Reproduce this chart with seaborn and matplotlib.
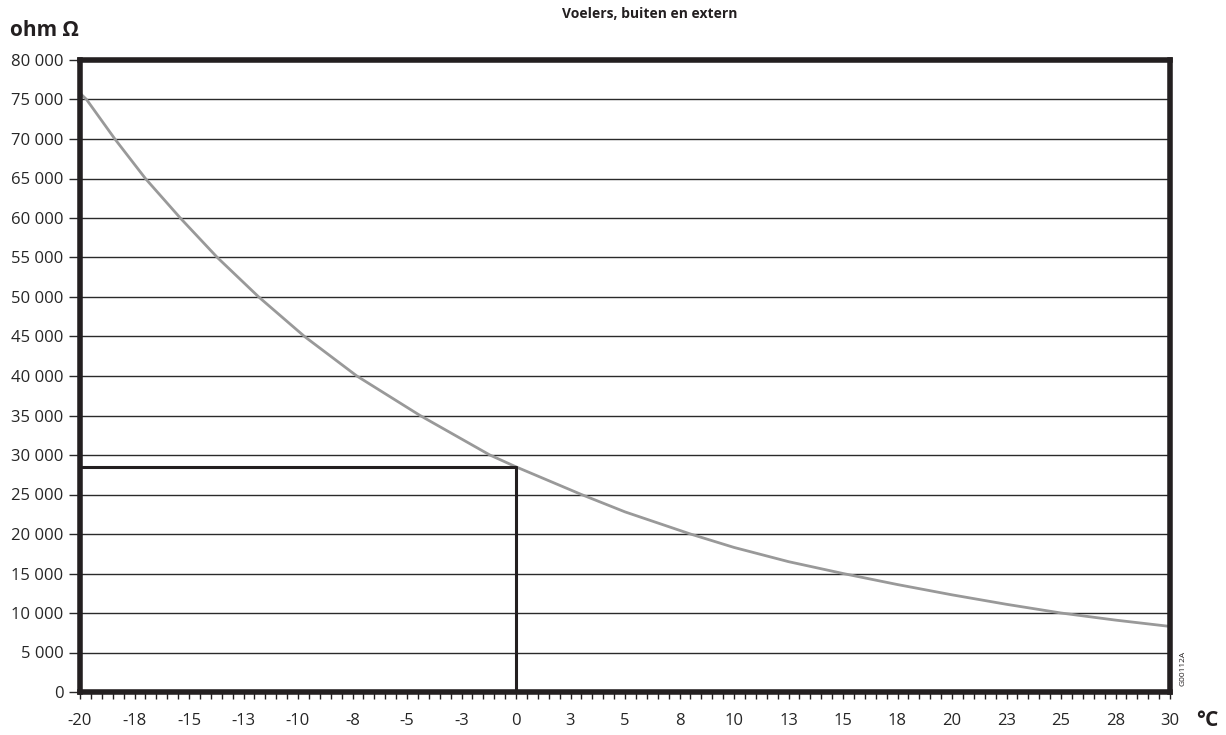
import numpy as np
import pandas as pd
import matplotlib
matplotlib.use("Agg")
import matplotlib.pyplot as plt
import seaborn as sns
from matplotlib.ticker import MultipleLocator, FixedLocator

# Waarden (temperatuur in °C, weerstand in ohm),
# vooral op de plekken waar de curve een rasterlijn snijdt
temperatuur = [-20, -19.7, -18.4, -17.0, -15.4, -13.7, -11.8, -9.7, -7.3, -4.4,
               -1.2, 0, 3.0, 5, 8.0, 10, 12.5, 15.0, 17.5, 20, 22.5, 25.0,
               27.5, 30]
weerstand = [75800, 75000, 70000, 65000, 60000, 55000, 50000, 45000, 40000,
             35000, 30000, 28500, 25000, 22800, 20000, 18300, 16500, 15000,
             13600, 12300, 11100, 10000, 9100, 8300]

x_tick_pos = [-20, -17.5, -15, -12.5, -10, -7.5, -5, -2.5, 0, 2.5, 5,
              7.5, 10, 12.5, 15, 17.5, 20, 22.5, 25, 27.5, 30]
x_tick_labels = ["-20", "-18", "-15", "-13", "-10", "-8", "-5", "-3", "0", "3", "5",
                 "8", "10", "13", "15", "18", "20", "23", "25", "28", "30"]
y_ticks = list(range(0, 80001, 5000))
y_tick_labels = ["0"] + [f"{v // 1000} 000" for v in y_ticks[1:]]

ref_temp = 0
ref_ohm = 28500

sns.set_theme(style="white")
plt.rcParams['font.family'] = ['Open Sans', 'DejaVu Sans']

df = pd.DataFrame({"temp": temperatuur, "ohm": weerstand})

fig = plt.figure(figsize=(12.26, 7.35), dpi=100)
ax = fig.add_axes([80 / 1226, 1 - 692 / 735, (1170 - 80) / 1226, (692 - 60) / 735])

# rasterlijnen
for v in y_ticks[1:]:
    ax.axhline(v, color="#2a2a2a", lw=1.0, zorder=1)

sns.lineplot(data=df, x="temp", y="ohm", ax=ax, color="#999999", lw=2.0,
             zorder=3, sort=True)

# referentielijnen bij 0 °C
ax.plot([-20, ref_temp], [ref_ohm, ref_ohm], color="#231f20", lw=2.2, zorder=4)
ax.plot([ref_temp, ref_temp], [0, ref_ohm], color="#231f20", lw=2.2, zorder=4)

ax.set_xlim(-20, 30)
ax.set_ylim(0, 80000)
ax.xaxis.set_major_locator(FixedLocator(x_tick_pos))
ax.set_xticklabels(x_tick_labels)
ax.xaxis.set_minor_locator(MultipleLocator(0.5))
ax.set_yticks(y_ticks)
ax.set_yticklabels(y_tick_labels)

ax.tick_params(axis="x", which="both", direction="out", length=5, width=1,
               color="#231f20", labelsize=12, pad=10, bottom=True)
ax.tick_params(axis="y", which="major", direction="out", length=8, width=1,
               color="#2a2a2a", labelsize=12, pad=4, left=True)
ax.set_xlabel("")
ax.set_ylabel("")

for s in ax.spines.values():
    s.set_visible(True)
    s.set_color("#231f20")
    s.set_linewidth(4)
    s.set_zorder(5)

fig.text(10 / 1226, 1 - 30 / 735, "ohm Ω", fontsize=15, fontweight="bold",
         ha="left", va="center", color="#231f20")
fig.text(650 / 1226, 1 - 14 / 735, "Voelers, buiten en extern", fontsize=10,
         fontweight="bold", ha="center", va="center", color="#231f20")
fig.text(1196 / 1226, 1 - 720 / 735, "°C", fontsize=15, fontweight="bold",
         ha="left", va="center", color="#231f20")
fig.text(1183 / 1226, 1 - 668 / 735, "G00112A", fontsize=6, rotation=90,
         ha="center", va="center", color="#231f20")

fig.savefig("out.png", dpi=100)
